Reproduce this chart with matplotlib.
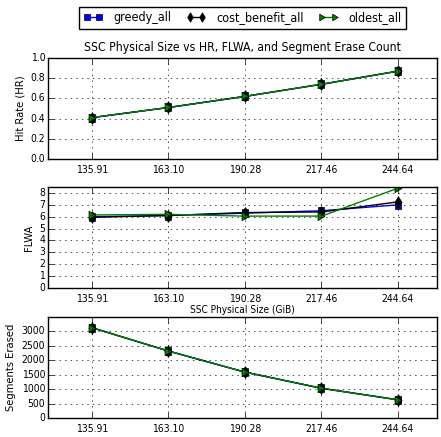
import numpy as np
import matplotlib
matplotlib.use('Agg')
import matplotlib.pyplot as plt
from matplotlib.path import Path

sizes = [135.91, 163.10, 190.28, 217.46, 244.64]
size_labels = ['135.91', '163.10', '190.28', '217.46', '244.64']

hr_greedy = [0.41, 0.51, 0.62, 0.74, 0.87]
hr_cost_benefit = [0.41, 0.51, 0.62, 0.74, 0.87]
hr_oldest = [0.41, 0.51, 0.62, 0.74, 0.87]

flwa_greedy = [6.0, 6.1, 6.3, 6.5, 7.0]
flwa_cost_benefit = [5.95, 6.1, 6.35, 6.4, 7.25]
flwa_oldest = [6.15, 6.2, 6.05, 6.05, 8.4]

erased_greedy = [3130, 2320, 1590, 1030, 630]
erased_cost_benefit = [3130, 2320, 1590, 1030, 630]
erased_oldest = [3130, 2320, 1590, 1030, 630]

plt.style.use('classic')
plt.rcParams['font.family'] = ['DejaVu Sans']
plt.rcParams['font.stretch'] = 'condensed'

# markers look squeezed sideways in the reference
sq = Path([(-0.43, -0.5), (0.43, -0.5), (0.43, 0.5), (-0.43, 0.5), (-0.43, -0.5)], closed=True)
dia = Path([(0, 1), (0.6, 0), (0, -1), (-0.6, 0), (0, 1)], closed=True)
tri = Path([(-0.75, 0.9), (0.75, 0), (-0.75, -0.9), (-0.75, 0.9)], closed=True)

fig = plt.figure(figsize=(4.41, 4.37), dpi=100, facecolor='white')
ax1 = fig.add_axes([48/441, 1-159/437, 389/441, 101/437])
ax2 = fig.add_axes([48/441, 1-288/437, 389/441, 101/437])
ax3 = fig.add_axes([48/441, 1-418/437, 389/441, 101/437])

series = [
    (hr_greedy, flwa_greedy, erased_greedy, 'greedy_all', 'b', sq, 5.5),
    (hr_cost_benefit, flwa_cost_benefit, erased_cost_benefit, 'cost_benefit_all', 'k', dia, 8.5),
    (hr_oldest, flwa_oldest, erased_oldest, 'oldest_all', 'g', tri, 6),
]

for hr, flwa, er, name, c, m, ms in series:
    ax1.plot(sizes, hr, color=c, marker=m, markersize=ms, label=name)
    ax2.plot(sizes, flwa, color=c, marker=m, markersize=ms, label=name)
    ax3.plot(sizes, er, color=c, marker=m, markersize=ms, label=name)

for ax in (ax1, ax2, ax3):
    ax.set_xlim(120.3, 258.5)
    ax.set_xticks(sizes)
    ax.set_xticklabels(size_labels, fontsize=7.5)
    ax.tick_params(axis='y', labelsize=7.5, pad=2)
    ax.grid(True)
    ax.set_facecolor('white')

ax1.set_ylim(0, 1.0)
ax1.set_yticks(np.arange(0, 1.01, 0.2))
ax1.set_ylabel('Hit Rate (HR)', fontsize=8, labelpad=4)
ax1.set_title('SSC Physical Size vs HR, FLWA, and Segment Erase Count', fontsize=8.7)
ax1.legend(loc='lower center', bbox_to_anchor=(0.5, 1.23), ncol=3, fontsize=9,
           numpoints=2, handlelength=1.6, markerscale=0.8, borderpad=0.35,
           columnspacing=1.2)

ax2.set_ylim(0, 8.5)
ax2.set_yticks(range(0, 9))
ax2.set_ylabel('FLWA', fontsize=8, labelpad=4)
ax2.set_xlabel('SSC Physical Size (GiB)', fontsize=7.2, labelpad=1)

ax3.set_ylim(0, 3500)
ax3.set_yticks(range(0, 3001, 500))
ax3.set_ylabel('Segments Erased', fontsize=8, labelpad=4)

fig.savefig('out.png', dpi=100, facecolor='white')
